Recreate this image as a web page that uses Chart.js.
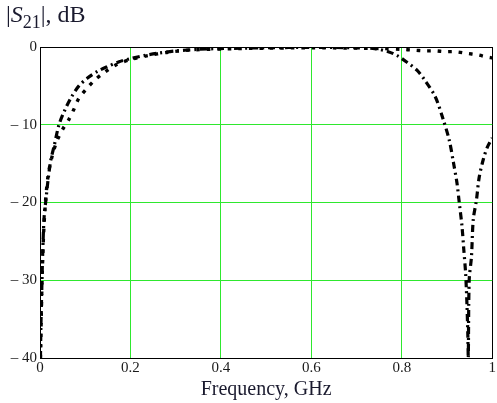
<!DOCTYPE html>
<html>
<head>
<meta charset="utf-8">
<script src="https://cdn.jsdelivr.net/npm/chart.js@4/dist/chart.umd.min.js"></script>
<style>
  html, body { margin: 0; padding: 0; background: #fff; }
  #wrap { position: relative; width: 497px; height: 403px; }
  #ylabel {
    position: absolute; left: 6px; top: 1px;
    font-family: 'Liberation Serif', serif; font-size: 24px; color: #1a1a2e;
  }
  #ylabel i { font-style: italic; }
  #ylabel sub { font-size: 18px; vertical-align: -6px; }
</style>
</head>
<body>
<div id="wrap">
  <canvas id="chart" width="497" height="403"></canvas>
  <div id="ylabel">|<i>S</i><sub>21</sub>|, dB</div>
</div>
<script>
// ===================== DATA =====================

// trace 1: dash-dot, has the notch near 0.946 GHz
const freqA = [0.001, 0.002, 0.004, 0.006, 0.009, 0.013, 0.018, 0.024, 0.031, 0.042,
               0.055, 0.07, 0.086, 0.105, 0.128, 0.15, 0.175, 0.2, 0.23, 0.26,
               0.3, 0.35, 0.4, 0.5, 0.6, 0.7, 0.74, 0.77, 0.79, 0.81,
               0.834, 0.85, 0.874, 0.892, 0.905, 0.914, 0.922, 0.927, 0.933, 0.937,
               0.941, 0.944, 0.946, 0.947, 0.949, 0.954, 0.958, 0.965, 0.971, 0.98,
               0.989, 1.0];
const s21A  = [-40, -36, -31, -26.5, -22, -19.7, -17, -14.5, -12.8, -10.0,
               -8.1, -6.4, -5.0, -4.0, -3.1, -2.5, -1.9, -1.5, -1.1, -0.8,
               -0.5, -0.3, -0.2, -0.1, -0.05, -0.1, -0.2, -0.6, -1.1, -1.9,
               -3.0, -4.2, -6.4, -9.4, -12, -14.8, -17.5, -20, -23, -26,
               -29, -33, -37, -40, -30, -27, -22.2, -19.7, -16.8, -14.5,
               -12.9, -11.7];

// trace 2: dotted, stays flat at the top
const freqB = [0.001, 0.003, 0.005, 0.008, 0.012, 0.018, 0.027, 0.038, 0.051, 0.064,
               0.075, 0.086, 0.104, 0.122, 0.144, 0.168, 0.2, 0.24, 0.28, 0.33,
               0.4, 0.5, 0.6, 0.7, 0.76, 0.8, 0.825, 0.852, 0.874, 0.896,
               0.918, 0.942, 0.967, 0.989, 1.0];
const s21B  = [-40, -34, -29, -24, -20, -16.5, -14, -12, -10.5, -9.3,
               -8.0, -6.6, -5.3, -4.2, -3.2, -2.3, -1.6, -1.1, -0.7, -0.4,
               -0.25, -0.15, -0.1, -0.15, -0.2, -0.3, -0.4, -0.5, -0.5, -0.6,
               -0.6, -0.8, -1.0, -1.3, -1.4];

const xTicks = [0, 0.2, 0.4, 0.6, 0.8, 1];
const yTicks = [-40, -30, -20, -10, 0];

// ===================== CHART =====================

const serif = 'Liberation Serif';
const gridGreen = '#2ee82e';

function toPoints(xs, ys) {
    return xs.map((x, i) => ({ x, y: ys[i] }));
}

new Chart(document.getElementById('chart'), {
    type: 'scatter',
    data: {
        datasets: [
            {
                data: toPoints(freqA, s21A),
                showLine: true,
                borderColor: '#000',
                borderWidth: 3.2,
                borderDash: [7, 4, 2, 4],
                pointRadius: 0,
                tension: 0.3
            },
            {
                data: toPoints(freqB, s21B),
                showLine: true,
                borderColor: '#000',
                borderWidth: 3.4,
                borderDash: [3.5, 7],
                pointRadius: 0,
                tension: 0.3
            }
        ]
    },
    options: {
        responsive: false,
        animation: false,
        layout: { padding: { top: 47, right: 4, left: 0, bottom: 0 } },
        plugins: { legend: { display: false }, tooltip: { enabled: false } },
        scales: {
            x: {
                type: 'linear',
                min: 0, max: 1,
                afterBuildTicks: s => { s.ticks = xTicks.map(v => ({ value: v })); },
                afterFit: s => { s.height = 45; },
                ticks: {
                    color: '#1a1a1a',
                    font: { family: serif, size: 15 },
                    padding: 1,
                    maxRotation: 0,
                    callback: v => String(v)
                },
                grid: {
                    drawTicks: false,
                    lineWidth: 1,
                    color: c => (c.tick && (c.tick.value === 0 || c.tick.value === 1)) ? '#000' : gridGreen
                },
                border: { color: '#000', width: 1 },
                title: {
                    display: true,
                    text: 'Frequency, GHz',
                    color: '#1a1a2e',
                    font: { family: serif, size: 20 },
                    padding: { top: 0, bottom: 1 }
                }
            },
            y: {
                type: 'linear',
                min: -40, max: 0,
                afterBuildTicks: s => { s.ticks = yTicks.map(v => ({ value: v })); },
                afterFit: s => { s.width = 40; },
                ticks: {
                    color: '#1a1a1a',
                    font: { family: serif, size: 15 },
                    padding: 3,
                    callback: v => v < 0 ? '\u2013 ' + Math.abs(v) : String(v)
                },
                grid: {
                    drawTicks: false,
                    lineWidth: 1,
                    color: c => (c.tick && (c.tick.value === 0 || c.tick.value === -40)) ? '#000' : gridGreen
                },
                border: { color: '#000', width: 1 }
            }
        }
    }
});
</script>
</body>
</html>
